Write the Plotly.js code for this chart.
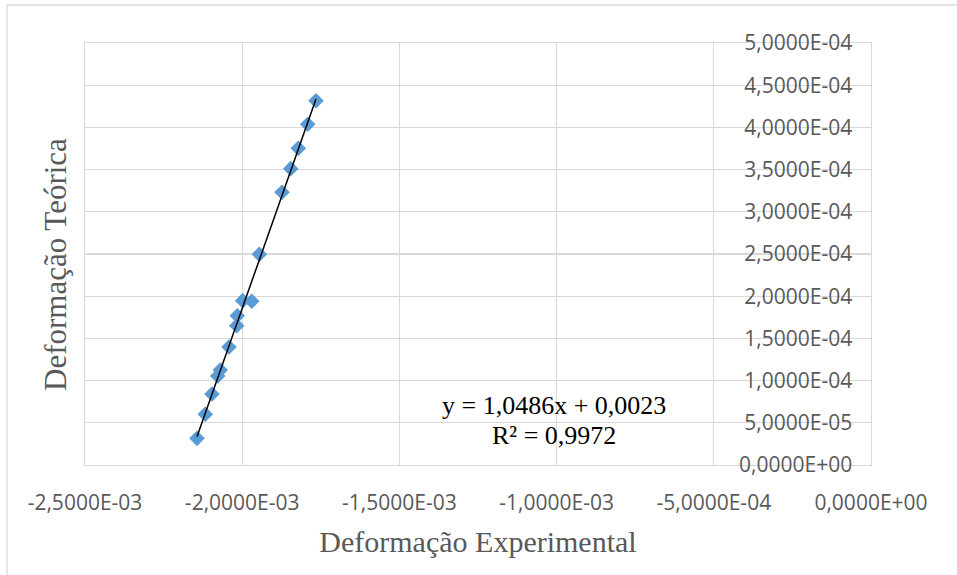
<!DOCTYPE html>
<html>
<head>
<meta charset="utf-8">
<script src="https://cdn.plot.ly/plotly-3.0.1.min.js"></script>
<style>
  html, body { margin: 0; padding: 0; background: #ffffff; }
  #chart { width: 957px; height: 575px; }
</style>
</head>
<body>
<div id="chart"></div>
<script>
// Measured strains: experimental (x) against theoretical (y)
const deformacaoExperimental = [
  -1.7653e-3, -1.7917e-3, -1.8216e-3, -1.8457e-3, -1.8734e-3, -1.9456e-3,
  -1.9984e-3, -1.9698e-3, -2.0156e-3, -2.0175e-3, -2.0420e-3, -2.0697e-3,
  -2.0779e-3, -2.0961e-3, -2.1174e-3, -2.1438e-3
];
const deformacaoTeorica = [
  4.316e-4, 4.037e-4, 3.752e-4, 3.511e-4, 3.231e-4, 2.496e-4,
  1.947e-4, 1.940e-4, 1.769e-4, 1.650e-4, 1.398e-4, 1.126e-4,
  1.054e-4, 0.841e-4, 0.601e-4, 0.316e-4
];

const xTickVals = [-2.5e-3, -2.0e-3, -1.5e-3, -1.0e-3, -5.0e-4, 0];
const xTickText = ['-2,5000E-03', '-2,0000E-03', '-1,5000E-03', '-1,0000E-03', '-5,0000E-04', '0,0000E+00'];
const yTickVals = [0, 5e-5, 1e-4, 1.5e-4, 2e-4, 2.5e-4, 3e-4, 3.5e-4, 4e-4, 4.5e-4, 5e-4];
const yTickText = ['0,0000E+00', '5,0000E-05', '1,0000E-04', '1,5000E-04', '2,0000E-04', '2,5000E-04',
                   '3,0000E-04', '3,5000E-04', '4,0000E-04', '4,5000E-04', '5,0000E-04'];

const equacaoTexto = 'y = 1,0486x + 0,0023';
const r2Texto = 'R² = 0,9972';

// Linear least-squares trend line over the measured range
function ajusteLinear(xs, ys) {
  const n = xs.length;
  const mx = xs.reduce((a, b) => a + b, 0) / n;
  const my = ys.reduce((a, b) => a + b, 0) / n;
  let sxy = 0, sxx = 0;
  for (let i = 0; i < n; i++) {
    sxy += (xs[i] - mx) * (ys[i] - my);
    sxx += (xs[i] - mx) * (xs[i] - mx);
  }
  const a = sxy / sxx;
  return { a: a, b: my - a * mx };
}
const fit = ajusteLinear(deformacaoExperimental, deformacaoTeorica);
const xMin = Math.min(...deformacaoExperimental);
const xMax = Math.max(...deformacaoExperimental);
const trendX = [xMin, xMax];
const trendY = trendX.map(x => fit.a * x + fit.b);

const gray = '#595959';
const gridColor = '#D9D9D9';
const tickFont = { family: '"Open Sans", "Noto Sans", sans-serif', size: 21, color: gray };
const serif = '"Liberation Serif", "DejaVu Serif", serif';

const traces = [
  {
    type: 'scatter',
    mode: 'markers',
    x: deformacaoExperimental,
    y: deformacaoTeorica,
    marker: { symbol: 'diamond', size: 12, color: '#5B9BD5', line: { width: 0 } },
    hoverinfo: 'x+y'
  },
  {
    type: 'scatter',
    mode: 'lines',
    x: trendX,
    y: trendY,
    line: { color: '#000000', width: 1.5 },
    hoverinfo: 'skip'
  }
];

const layout = {
  width: 957,
  height: 575,
  margin: { l: 85, r: 86, t: 43, b: 110 },
  paper_bgcolor: '#ffffff',
  plot_bgcolor: '#ffffff',
  showlegend: false,
  xaxis: {
    range: [-2.5e-3, 0],
    tickvals: xTickVals,
    ticktext: xTickText,
    tickfont: tickFont,
    ticks: '',
    showgrid: true,
    gridcolor: gridColor,
    gridwidth: 1.3,
    zeroline: false,
    showline: true,
    mirror: true,
    linecolor: gridColor,
    linewidth: 1.3,
    ticklabelstandoff: 18,
    title: {
      text: 'Deformação Experimental',
      font: { family: serif, size: 30, color: gray },
      standoff: 16
    }
  },
  yaxis: {
    range: [0, 5e-4],
    side: 'right',
    ticklabelposition: 'inside',
    ticklabeloverflow: 'allow',
    ticklabelstandoff: 20,
    tickvals: yTickVals,
    ticktext: yTickText,
    tickfont: tickFont,
    ticks: '',
    showgrid: true,
    gridcolor: gridColor,
    gridwidth: 1.3,
    zeroline: false,
    showline: true,
    mirror: true,
    linecolor: gridColor,
    linewidth: 1.3
  },
  annotations: [
    {
      xref: 'paper', yref: 'paper',
      x: (55 - 85) / 786, y: (465 - 265) / 422,
      xanchor: 'center', yanchor: 'middle',
      text: 'Deformação Teórica',
      textangle: -90,
      showarrow: false,
      font: { family: serif, size: 31, color: gray }
    },
    {
      xref: 'paper', yref: 'paper',
      x: (554 - 85) / 786, y: (465 - 405) / 422,
      xanchor: 'center', yanchor: 'middle',
      text: equacaoTexto,
      showarrow: false,
      font: { family: serif, size: 26, color: '#000000' }
    },
    {
      xref: 'paper', yref: 'paper',
      x: (554 - 85) / 786, y: (465 - 435) / 422,
      xanchor: 'center', yanchor: 'middle',
      text: r2Texto,
      showarrow: false,
      font: { family: serif, size: 26, color: '#000000' }
    }
  ],
  shapes: [
    {
      type: 'rect', xref: 'paper', yref: 'paper', layer: 'below',
      x0: (7 - 85) / 786, x1: 1.2,
      y0: -0.5, y1: (465 - 5) / 422,
      line: { color: gridColor, width: 1.3 },
      fillcolor: 'rgba(0,0,0,0)'
    }
  ]
};

Plotly.newPlot('chart', traces, layout, { displayModeBar: false, staticPlot: true });
</script>
</body>
</html>
